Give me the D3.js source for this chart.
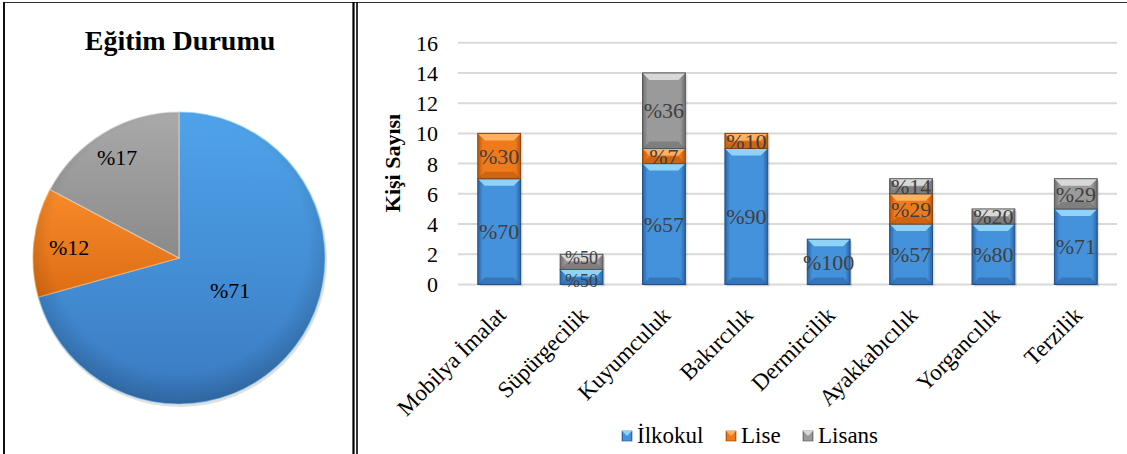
<!DOCTYPE html>
<html><head><meta charset="utf-8">
<script src="https://cdn.jsdelivr.net/npm/d3@7"></script>
<style>
html,body{margin:0;padding:0;background:#fff;}
svg{display:block;}
text{font-family:"Liberation Serif","Times New Roman",serif;}
</style></head>
<body>
<svg id="c" width="1127" height="454"></svg>
<script>
// ---- data ----
const pieTitle = "Eğitim Durumu";
const pieLabels = ["İlkokul","Lise","Lisans"];
const pieValues = [41, 7, 10];
const piePercentLabels = ["%71","%12","%17"];

const categories = ["Mobilya İmalat","Süpürgecilik","Kuyumculuk","Bakırcılık","Dermircilik","Ayakkabıcılık","Yorgancılık","Terzilik"];
const seriesNames = ["İlkokul","Lise","Lisans"];
const ilkokul = [7,1,8,9,3,4,4,5];
const lise    = [3,0,1,1,0,2,0,0];
const lisans  = [0,1,5,0,0,1,1,2];
const ilkokulPct = ["%70","%50","%57","%90","%100","%57","%80","%71"];
const lisePct    = ["%30","","%7","%10","","%29","",""];
const lisansPct  = ["","%50","%36","","","%14","%20","%29"];
const yTicks = [0,2,4,6,8,10,12,14,16];
const yTitle = "Kişi Sayısı";

const FONT = "Liberation Serif";
const svg = d3.select("#c");
const defs = svg.append("defs");

const palette = {
  blue:  {light:"#8fd3fa", main:"#4592dc", dark:"#2b64a3", edge:"#1f4f86", top:"#4fa3ea", bot:"#3a7bc2"},
  orange:{light:"#ffb060", main:"#ef7a1c", dark:"#b9560e", edge:"#8e420a", top:"#f88a2a", bot:"#de6d14"},
  gray:  {light:"#d8d8d8", main:"#9a9a9a", dark:"#6e6e6e", edge:"#555555", top:"#a9a9a9", bot:"#8a8a8a"}
};
const keys = ["blue","orange","gray"];

keys.forEach(k=>{
  const p = palette[k];
  const g = defs.append("linearGradient").attr("id","h_"+k).attr("x1","0").attr("x2","1").attr("y1","0").attr("y2","0");
  g.append("stop").attr("offset","0").attr("stop-color",p.dark);
  g.append("stop").attr("offset","0.12").attr("stop-color",p.main);
  g.append("stop").attr("offset","0.88").attr("stop-color",p.main);
  g.append("stop").attr("offset","1").attr("stop-color",p.dark);
  const pg = defs.append("linearGradient").attr("id","p_"+k).attr("x1","0").attr("x2","0").attr("y1","0").attr("y2","1");
  pg.append("stop").attr("offset","0").attr("stop-color",p.top);
  pg.append("stop").attr("offset","1").attr("stop-color",p.bot);
});
const rg = defs.append("radialGradient").attr("id","pieShade").attr("cx","0.5").attr("cy","0.45").attr("r","0.55");
rg.append("stop").attr("offset","0.8").attr("stop-color","#000").attr("stop-opacity",0);
rg.append("stop").attr("offset","1").attr("stop-color","#000").attr("stop-opacity",0.18);

// ---- frames ----
svg.append("line").attr("x1",3).attr("x2",1127).attr("y1",2.5).attr("y2",2.5).attr("stroke","#333").attr("stroke-width",1.2);
svg.append("line").attr("x1",4).attr("x2",4).attr("y1",2).attr("y2",454).attr("stroke","#111").attr("stroke-width",2);
svg.append("line").attr("x1",353.5).attr("x2",353.5).attr("y1",2).attr("y2",454).attr("stroke","#000").attr("stroke-width",2.2);
svg.append("line").attr("x1",357).attr("x2",357).attr("y1",2).attr("y2",454).attr("stroke","#000").attr("stroke-width",1.6);

// ---- pie ----
const cx = 179, cy = 258, R = 146;
svg.append("text").attr("x",180).attr("y",50).attr("text-anchor","middle").attr("font-family",FONT)
  .attr("font-weight","bold").attr("font-size",28).attr("fill","#000").text(pieTitle);

const pie = d3.pie().sort(null).value(d=>d)(pieValues);
const arc = d3.arc().innerRadius(0).outerRadius(R);
const pg = svg.append("g").attr("transform",`translate(${cx},${cy})`);
pg.append("circle").attr("r",R+1).attr("cx",1).attr("cy",2).attr("fill","#000").attr("opacity",0.12);
pg.selectAll("path.s").data(pie).join("path").attr("class","s")
  .attr("d",arc).attr("fill",(d,i)=>`url(#p_${keys[i]})`)
  .attr("stroke",(d,i)=>palette[keys[i]].light).attr("stroke-width",1.2).attr("stroke-opacity",0.7);
pg.append("circle").attr("r",R).attr("fill","url(#pieShade)");
const labelPos = [[31,40],[-130,-3],[-82,-93]];
pg.selectAll("text.pl").data(pie).join("text").attr("class","pl").attr("font-family",FONT)
  .attr("x",(d,i)=>labelPos[i][0]).attr("y",(d,i)=>labelPos[i][1])
  .attr("font-size",22).attr("fill","#000").text((d,i)=>piePercentLabels[i]);

// ---- bar chart ----
const x = d3.scaleBand().domain(categories).range([458,1117]).paddingInner(0.48).paddingOuter(0.24);
const y = d3.scaleLinear().domain([0,16]).range([284.5,42.7]);

const grid = svg.append("g");
grid.selectAll("line").data(yTicks).join("line")
  .attr("x1",458).attr("x2",1117).attr("y1",d=>y(d)).attr("y2",d=>y(d))
  .attr("stroke","#d9d9d9").attr("stroke-width",2);

const yAxis = d3.axisLeft(y).tickValues(yTicks).tickSize(0).tickPadding(0);
const ya = svg.append("g").attr("transform","translate(438,0)").call(yAxis);
ya.select(".domain").remove();
ya.selectAll("text").attr("font-family",FONT).attr("font-size",22).attr("fill","#000").attr("dy","0.34em");

svg.append("text").attr("transform","translate(400,163) rotate(-90)").attr("text-anchor","middle").attr("font-family",FONT)
  .attr("font-weight","bold").attr("font-size",22).attr("fill","#000").text(yTitle);

const stackData = categories.map((c,i)=>({cat:c, v:[ilkokul[i],lise[i],lisans[i]], p:[ilkokulPct[i],lisePct[i],lisansPct[i]]}));
const segs = [];
stackData.forEach(d=>{
  let acc = 0;
  d.v.forEach((v,k)=>{ if(v>0){ segs.push({cat:d.cat,k,y0:acc,y1:acc+v,label:d.p[k]}); } acc+=v; });
});

const bw = x.bandwidth();
// shadow
svg.append("g").selectAll("rect").data(stackData).join("rect")
  .attr("x",d=>x(d.cat)+2).attr("y",d=>y(d3.sum(d.v))+2).attr("width",bw).attr("height",d=>y(0)-y(d3.sum(d.v)))
  .attr("fill","#000").attr("opacity",0.12);

const bars = svg.append("g");
segs.forEach(s=>{
  const p = palette[keys[s.k]];
  const x0 = x(s.cat), x1 = x0+bw, yt = y(s.y1), yb = y(s.y0);
  const h = yb-yt, b = Math.min(7, h/2);
  const g = bars.append("g");
  g.append("rect").attr("x",x0).attr("y",yt).attr("width",bw).attr("height",h).attr("fill",`url(#h_${keys[s.k]})`);
  g.append("polygon").attr("points",`${x0},${yt} ${x1},${yt} ${x1-b},${yt+b} ${x0+b},${yt+b}`).attr("fill",p.light);
  g.append("polygon").attr("points",`${x0},${yb} ${x1},${yb} ${x1-b},${yb-b} ${x0+b},${yb-b}`).attr("fill",p.dark).attr("opacity",0.6);
  g.append("rect").attr("x",x0).attr("y",yt).attr("width",bw).attr("height",h).attr("fill","none").attr("stroke",p.edge).attr("stroke-width",1);
});

const tight = s => s.cat==="Süpürgecilik";
svg.append("g").selectAll("text").data(segs.filter(s=>s.label)).join("text").attr("font-family",FONT)
  .attr("x",s=>x(s.cat)+bw/2).attr("y",s=>(y(s.y0)+y(s.y1))/2 + (tight(s) ? (s.k===0?4:-4) : 0)).attr("dy","0.35em")
  .attr("text-anchor","middle").attr("font-size",s=>tight(s)?18:22).attr("fill","#404040").text(s=>s.label);

// category labels
const xa = svg.append("g").attr("transform","translate(0,284.5)").call(d3.axisBottom(x).tickSize(0).tickPadding(0));
xa.select(".domain").remove();
xa.selectAll("text").attr("font-family",FONT).attr("font-size",23).attr("fill","#000")
  .attr("text-anchor","end").attr("dy",0).attr("y",0)
  .attr("transform","translate(8,32) rotate(-45)");

// legend
const lg = svg.append("g");
const legX = [622,726,803];
seriesNames.forEach((n,i)=>{
  const p = palette[keys[i]];
  lg.append("rect").attr("x",legX[i]).attr("y",431).attr("width",10).attr("height",10).attr("fill",`url(#h_${keys[i]})`).attr("stroke",p.edge).attr("stroke-width",0.6);
  lg.append("polygon").attr("points",`${legX[i]},431 ${legX[i]+10},431 ${legX[i]+5},436`).attr("fill",p.light);
  lg.append("text").attr("x",legX[i]+15).attr("y",443).attr("font-family",FONT).attr("font-size",23).attr("fill","#000").text(n);
});
</script>
</body></html>
